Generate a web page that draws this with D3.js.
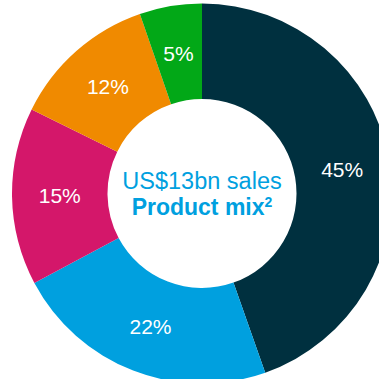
<!DOCTYPE html>
<html>
<head>
<meta charset="utf-8">
<script src="https://cdn.jsdelivr.net/npm/d3@7"></script>
<style>
    body { margin: 0; background: #ffffff; }
    text { font-family: "Liberation Sans", Arial, sans-serif; }
</style>
</head>
<body>
<div id="donut"></div>
<script>
// 1: DATA
const categories = ["A", "B", "C", "D", "E"];
const shares = [44.6, 22.6, 15.1, 12.4, 5.3];          // slice sizes
const shareLabels = ["45%", "22%", "15%", "12%", "5%"];  // printed labels
const sliceColors = ["#00303f", "#00a0df", "#d4176a", "#f08a00", "#02a817"];
const centerLines = ["US$13bn sales", "Product mix", "2"];

// 2: SET GLOBAL VARIABLES
const width = 379;
const height = 379;
const cx = 202, cy = 193.5;
const outerR = 190;
const innerR = 94.5;

const svg = d3.select("#donut")
    .append("svg")
    .attr("width", width)
    .attr("height", height)
    .append("g")
    .attr("transform", `translate(${cx},${cy})`);

const data = categories.map((c, i) => ({ cat: c, value: shares[i], label: shareLabels[i], color: sliceColors[i] }));

// 3: PIE LAYOUT
const pie = d3.pie()
    .value(d => d.value)
    .sort(null);

const arc = d3.arc()
    .innerRadius(innerR)
    .outerRadius(outerR);

const labelArc = d3.arc()
    .innerRadius((innerR + outerR) / 2)
    .outerRadius((innerR + outerR) / 2);

const arcs = pie(data);

// 4: DRAW SLICES
svg.selectAll(".slice")
    .data(arcs)
    .enter()
    .append("path")
    .attr("class", "slice")
    .attr("d", arc)
    .attr("fill", d => d.data.color);

// 5: SLICE LABELS
svg.selectAll(".pct")
    .data(arcs)
    .enter()
    .append("text")
    .attr("class", "pct")
    .attr("transform", d => `translate(${labelArc.centroid(d)})`)
    .attr("text-anchor", "middle")
    .attr("dy", "0.36em")
    .attr("fill", "#ffffff")
    .style("font-size", "21px")
    .text(d => d.data.label);

// 6: CENTER TEXT
svg.append("text")
    .attr("text-anchor", "middle")
    .attr("y", -5)
    .attr("fill", "#00a0df")
    .style("font-size", "23.5px")
    .text(centerLines[0]);

const mix = svg.append("text")
    .attr("text-anchor", "middle")
    .attr("y", 21.5)
    .attr("fill", "#00a0df")
    .style("font-size", "23px")
    .style("font-weight", "bold");
mix.append("tspan").text(centerLines[1]);
mix.append("tspan")
    .attr("dy", -8)
    .style("font-size", "14px")
    .text(centerLines[2]);
</script>
</body>
</html>
